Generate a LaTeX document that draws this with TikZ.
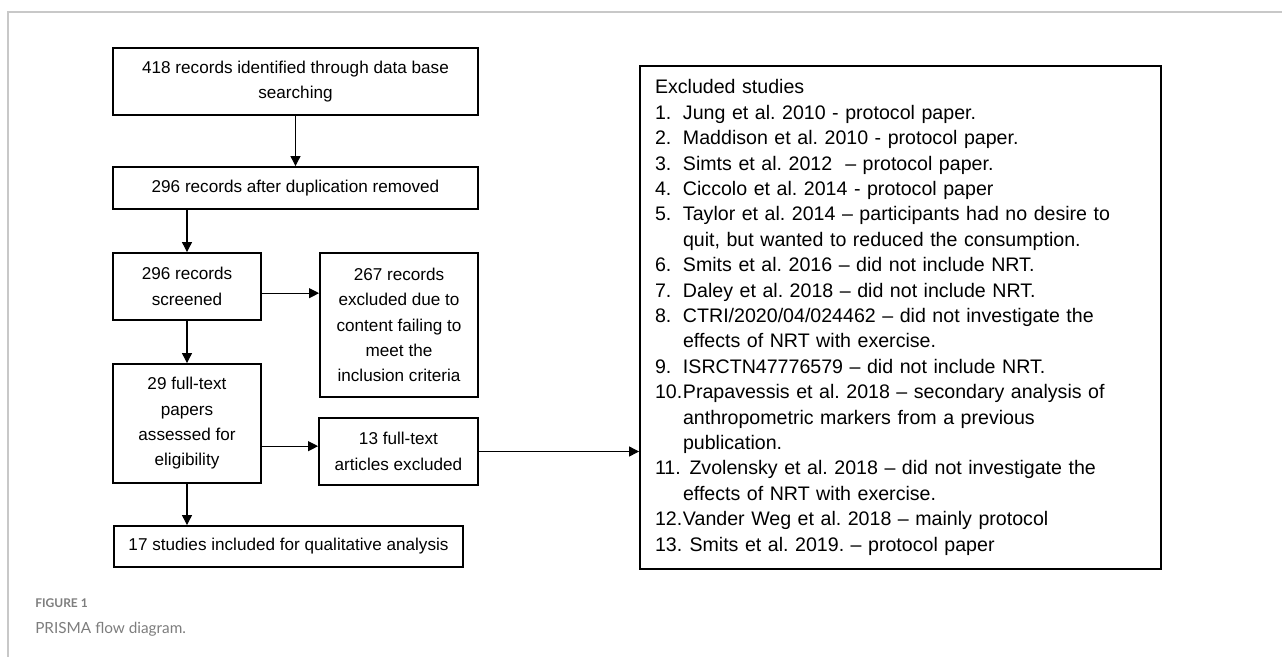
\documentclass[tikz,border=0pt]{standalone}
\usepackage{fontspec}
\setmainfont{Liberation Sans}
\newfontfamily\capfont{Lato}
\usetikzlibrary{arrows.meta,positioning}
\definecolor{framegray}{RGB}{200,200,200}
\definecolor{capgray}{RGB}{125,125,125}
\frenchspacing

\begin{document}
\begin{tikzpicture}[x=0.75pt,y=0.75pt,
  box/.style={draw,line width=1.4pt,inner sep=0pt,align=center,
    font=\fontsize{12.85}{19}\selectfont},
  arr/.style={-{Triangle[length=7.5pt,width=7.5pt]},line width=0.8pt}]
\useasboundingbox (0,0) rectangle (1282,-657);
\draw[framegray,line width=0.9pt] (8,-657) -- (8,-12) -- (1282,-12);

% left column
\node[box,minimum width=273.75pt,minimum height=50.25pt] (found) at (295.5,-81.75)
  {418 records identified through data base\\searching};
\node[box,minimum width=273.75pt,minimum height=31.5pt] (dedup) at (295.5,-188)
  {296 records after duplication removed};
\node[box,minimum width=111pt,minimum height=50.25pt] (screened) at (187,-286.5)
  {296 records\\screened};
\node[box,minimum width=118.5pt,minimum height=108pt] (screenexcl) at (399,-325)
  {267 records\\excluded due to\\content failing to\\meet the\\inclusion criteria};
\node[box,minimum width=111pt,minimum height=89.25pt] (fulltext) at (187,-423.5)
  {29 full-text\\papers\\assessed for\\eligibility};
\node[box,minimum width=119.25pt,minimum height=50.25pt] (ftexcl) at (398.5,-451.5)
  {13 full-text\\articles excluded};
\node[box,minimum width=261.75pt,minimum height=30.75pt] (included) at (288.5,-546.5)
  {17 studies included for qualitative analysis};

% excluded list
\node[box,align=left,text width=368.25pt,inner xsep=11.25pt,minimum height=377.25pt,
  font=\fontsize{14.7}{19.05}\selectfont] (excllist) at (900.5,-317.5) {%
\begin{tabular}{@{}p{21pt}@{}l@{}}
\multicolumn{2}{@{}l@{}}{Excluded studies}\\
1. & Jung et al. 2010 - protocol paper.\\
2. & Maddison et al. 2010 - protocol paper.\\
3. & Simts et al. 2012~ – protocol paper.\\
4. & Ciccolo et al. 2014 - protocol paper\\
5. & Taylor et al. 2014 – participants had no desire to\\
   & quit, but wanted to reduced the consumption.\\
6. & Smits et al. 2016 – did not include NRT.\\
7. & Daley et al. 2018 – did not include NRT.\\
8. & CTRI/2020/04/024462 – did not investigate the\\
   & effects of NRT with exercise.\\
9. & ISRCTN47776579 – did not include NRT.\\
10.& Prapavessis et al. 2018 – secondary analysis of\\
   & anthropometric markers from a previous\\
   & publication.\\
11.& \ Zvolensky et al. 2018 – did not investigate the\\
   & effects of NRT with exercise.\\
12.& Vander Weg et al. 2018 – mainly protocol\\
13.& \ Smits et al. 2019. – protocol paper
\end{tabular}};

% connectors
\draw[arr] (found) -- (dedup);
\draw[arr] (dedup.south -| screened.north) -- (screened.north);
\draw[arr] ([yshift=-5pt]screened.east) -- ([yshift=-5pt]screened.east -| screenexcl.west);
\draw[arr] (screened) -- (fulltext);
\draw[arr] ([yshift=4pt]ftexcl.west -| fulltext.east) -- ([yshift=4pt]ftexcl.west);
\draw[arr] (ftexcl.east) -- (ftexcl.east -| excllist.west);
\draw[arr] (fulltext.south) -- (fulltext.south |- included.north);

% caption
\node[anchor=west,inner sep=0pt,text=capgray,font=\capfont\bfseries\fontsize{9}{11}\selectfont]
  (figlabel) at (35,-603) {FIGURE 1};
\node[anchor=west,inner sep=0pt,text=capgray,font=\capfont\fontsize{11.5}{14}\selectfont]
  (figcaption) at (35,-629) {PRISMA flow diagram.};
\end{tikzpicture}
\end{document}
